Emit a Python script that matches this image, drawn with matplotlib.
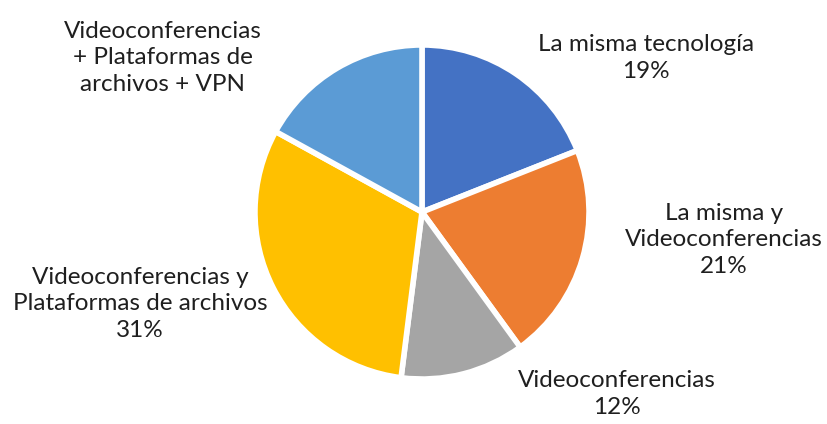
import matplotlib
matplotlib.use("Agg")
import matplotlib.pyplot as plt

categories = ["La misma tecnología", "La misma y\nVideoconferencias", "Videoconferencias",
              "Videoconferencias y\nPlataformas de archivos",
              "Videoconferencias\n+ Plataformas de\narchivos + VPN"]
values = [19, 21, 12, 31, 17]
show_pct = [True, True, True, True, False]
colors = ["#4472C4", "#ED7D31", "#A5A5A5", "#FFC000", "#5B9BD5"]
label_pos = [(646, 366), (724, 184), (617, 30), (140, 120), (163, 366)]

plt.rcParams['font.family'] = ['Lato', 'DejaVu Sans']
fig = plt.figure(figsize=(8.27, 4.24), dpi=100)
ax = fig.add_axes([0, 0, 1, 1])
ax.set_aspect('equal')
ax.axis('off')

total = sum(values)
wedges, _ = ax.pie(values, colors=colors, startangle=90, counterclock=False,
                   center=(422, 212), radius=167, explode=[0.03] * 5,
                   wedgeprops=dict(edgecolor='white', linewidth=4))
ax.set_xlim(0, 827)
ax.set_ylim(0, 424)

for cat, v, sp, (x, y) in zip(categories, values, show_pct, label_pos):
    txt = cat + (f"\n{round(100 * v / total)}%" if sp else "")
    ax.text(x, y, txt, ha='center', va='center', fontsize=17.5, color='#1f1f1f',
            linespacing=1.33)

fig.savefig("out.png", dpi=100)
